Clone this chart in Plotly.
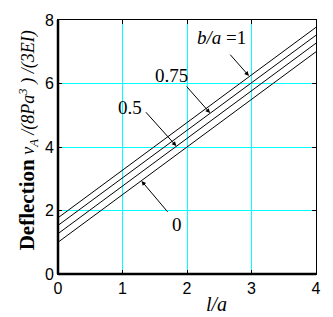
import plotly.graph_objects as go

# Data
x_vals = [0, 4]
series_names = ["b/a = 0", "b/a = 0.5", "b/a = 0.75", "b/a = 1"]
y_start = [1.0, 1.27, 1.53, 1.77]
y_end = [7.0, 7.27, 7.52, 7.77]
x_ticks = [0, 1, 2, 3, 4]
y_ticks = [0, 2, 4, 6, 8]

fig = go.Figure()
for name, y0, y1 in zip(series_names, y_start, y_end):
    fig.add_trace(go.Scatter(x=x_vals, y=[y0, y1], mode="lines", name=name,
                             line=dict(color="black", width=1), showlegend=False))

serif = "Liberation Serif, Times New Roman, serif"
sans = "Liberation Sans, Arial, sans-serif"

# pixel helpers (plot area spans 57.5..317.5 x 16..274.3)
def px_x(p):
    return (p - 57.5) / 260.0

def px_y(p):
    return (274.3 - p) / 258.3

# text labels
labels = [
    ("<i>b/a</i> =1", 2.53, 7.44),
    ("0.75", 1.76, 6.26),
    ("0.5", 1.115, 5.23),
    ("0", 1.85, 1.56),
]
for t, x, y in labels:
    fig.add_annotation(x=x, y=y, xref="x", yref="y", text=t, showarrow=False,
                       font=dict(family=serif, size=19, color="black"))

# arrows (head at line, tail offset in px)
arrows = [
    (2.96, 6.24, -20, -22.7),
    (2.357, 5.07, -24.7, -28),
    (1.834, 4.03, -31.7, -35.3),
    (1.295, 2.93, 27.3, 32.3),
]
for x, y, ax, ay in arrows:
    fig.add_annotation(x=x, y=y, xref="x", yref="y", text="", showarrow=True,
                       ax=ax, ay=ay, arrowhead=2, arrowsize=0.9, arrowwidth=1,
                       arrowcolor="black")

# axis titles
fig.add_annotation(x=px_x(217), y=px_y(305), xref="paper", yref="paper",
                   text="<i>l/a</i>", showarrow=False, yanchor="middle",
                   font=dict(family=serif, size=20, color="black"))
fig.add_annotation(x=px_x(13), y=px_y(138.5), xref="paper", yref="paper",
                   text="<span style='font-size:21px'><b>Deflection</b></span> "
                        "<i>v<sub>A</sub> /(8Pa<sup>3</sup> ) /(3EI)</i>",
                   textangle=-90, showarrow=False,
                   font=dict(family=serif, size=18, color="black"))

# thick left and bottom axes
fig.add_shape(type="line", xref="paper", yref="paper", x0=0, x1=1, y0=0, y1=0,
              line=dict(color="black", width=2.5))
fig.add_shape(type="line", xref="paper", yref="paper", x0=0, x1=0, y0=0, y1=1,
              line=dict(color="black", width=2.5))

fig.update_layout(
    width=333, height=317,
    margin=dict(l=57.5, r=15.5, t=16, b=42.7),
    plot_bgcolor="white", paper_bgcolor="white",
    showlegend=False,
)
fig.update_xaxes(range=[0, 4], tickvals=x_ticks, showgrid=True, gridcolor="#00ffff", gridwidth=1,
                 zeroline=False, showline=True, linecolor="black", linewidth=1, mirror="allticks",
                 ticks="inside", ticklen=4, tickcolor="black",
                 tickfont=dict(family=sans, size=16, color="black"))
fig.update_yaxes(range=[0, 8], tickvals=y_ticks, showgrid=True, gridcolor="#00ffff", gridwidth=1,
                 zeroline=False, showline=True, linecolor="black", linewidth=1, mirror="allticks",
                 ticks="inside", ticklen=4, tickcolor="black",
                 tickfont=dict(family=sans, size=16, color="black"))

fig.write_html(
    "out.html",
    config={"displayModeBar": False},
    post_script="document.body.style.margin='0';"
                "document.body.style.overflow='hidden';"
                "document.documentElement.style.overflow='hidden';",
)
